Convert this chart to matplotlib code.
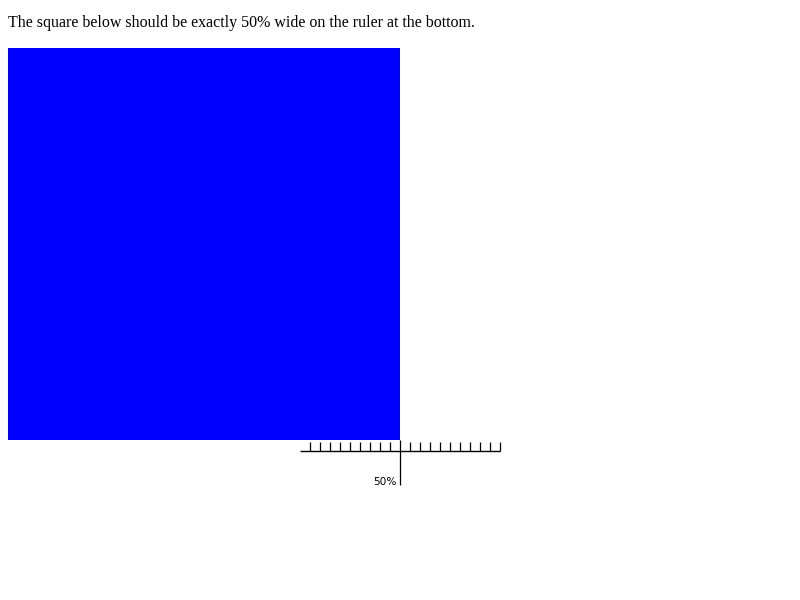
import matplotlib
matplotlib.use("Agg")
import matplotlib.pyplot as plt
from matplotlib.patches import Rectangle

# page geometry in pixels (800x600 canvas, y grows downward)
heading = "The square below should be exactly 50% wide on the ruler at the bottom."
square_box = [8, 48, 392, 392]          # x, y, width, height
ruler_span = [300, 500]                 # left / right end of the ruler line
ruler_y = 451
minor_ticks = [309, 319, 329, 339, 349, 359, 369, 379, 389,
               409, 419, 429, 439, 449, 459, 469, 479, 489, 499]
major_tick = 399
major_label = "50%"

fig = plt.figure(figsize=(8, 6), dpi=100)
ax = fig.add_axes([0, 0, 1, 1])
ax.set_xlim(0, 800)
ax.set_ylim(600, 0)
ax.axis("off")

ax.text(8, 27, heading, family=["Liberation Serif", "DejaVu Serif"],
        fontsize=11.5, color="black", ha="left", va="baseline")

x, y, w, h = square_box
ax.add_patch(Rectangle((x, y), w, h, facecolor="#0000ff", edgecolor="none"))

# ruler
ax.plot(ruler_span, [ruler_y, ruler_y], color="black", lw=1.0,
        solid_capstyle="butt")
for t in minor_ticks:
    ax.plot([t + 0.5, t + 0.5], [442, ruler_y], color="black", lw=0.9,
            solid_capstyle="butt")
ax.plot([major_tick + 0.5, major_tick + 0.5], [440, 485], color="black",
        lw=0.9, solid_capstyle="butt")
ax.text(397, 485, major_label, family="DejaVu Sans", fontsize=7.6,
        ha="right", va="baseline", color="black")

fig.savefig("out.png", dpi=100)
